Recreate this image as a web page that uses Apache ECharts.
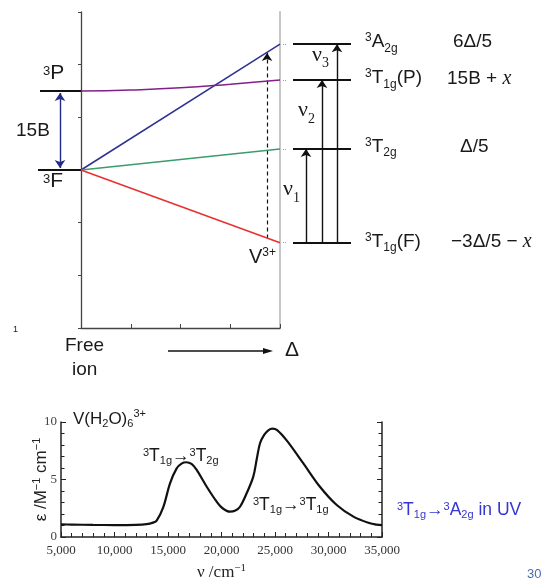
<!DOCTYPE html>
<html>
<head>
<meta charset="utf-8">
<script src="https://cdn.jsdelivr.net/npm/echarts@6/dist/echarts.min.js"></script>
<style>
  html, body { margin: 0; padding: 0; background: #fff; }
  #main { width: 544px; height: 583px; }
</style>
</head>
<body>
<div id="main"></div>
<script>
var SANS = '"Liberation Sans", Arial, sans-serif';
var SERIF = '"Liberation Serif", "Times New Roman", serif';
var INK = '#1a1a1a';

// correlation diagram (Δ 0..4, energy 0..6)
var lineDelta = [0, 4];
var a2gLine = [3.0, 5.39];
var t2gLine = [3.0, 3.40];
var t1gFLine = [3.0, 1.62];
var t1gPDelta = [0, 1, 2, 3, 4];
var t1gPLine = [4.5, 4.52, 4.56, 4.63, 4.71];
var v3Delta = 3.74;
var v3Span = [1.70, 5.22];
var freeIonTerms = [4.5, 3.0];          // 3P, 3F
var levels = [5.39, 4.71, 3.40, 1.62];  // 3A2g, 3T1g(P), 3T2g, 3T1g(F)
var transTo = [3.40, 4.71, 5.39];       // ν1, ν2, ν3

// spectrum of V(H2O)6 3+
var nu = [5000, 6000, 8000, 10000, 12000, 13000, 13600, 13940, 14560, 15190, 15810, 16300, 16700, 17200,
  17680, 18620, 19550, 20100, 20790, 21300, 21730, 22350, 22970, 23300, 23600, 24000, 24400, 24750,
  25200, 26090, 27650, 29200, 30770, 32330, 33880, 34500, 35000];
var eps = [1.1, 1.08, 1.05, 1.04, 1.06, 1.12, 1.25, 1.42, 2.6, 4.67, 5.97, 6.4, 6.5, 6.35,
  5.83, 4.37, 3.07, 2.5, 2.2, 2.3, 2.63, 3.8, 5.25, 6.8, 8.15, 8.9, 9.3, 9.42,
  9.3, 8.4, 6.4, 4.37, 2.78, 1.77, 1.19, 1.08, 1.03];
var nuTickLabels = ['5,000', '10,000', '15,000', '20,000', '25,000', '30,000', '35,000'];

// p = superscript, b = subscript, i = italic serif x
function rich(size, fam, color, up, down) {
  var s = Math.round(size * 0.62);
  return {
    p: { fontSize: s, fontFamily: fam, fill: color, padding: [0, 0, Math.round(up * 2), 0] },
    b: { fontSize: s, fontFamily: fam, fill: color, padding: [Math.round(down * 2), 0, 0, 0] },
    i: { fontSize: size + 1, fontFamily: SERIF, fontStyle: 'italic', fill: color }
  };
}
function txt(x, y, text, size, opt) {
  opt = opt || {};
  var fam = opt.family || SANS;
  var color = opt.color || INK;
  var up = opt.up != null ? opt.up : 4;
  var down = opt.down != null ? opt.down : 6;
  return {
    type: 'text', x: x, y: y, silent: true,
    style: { text: text, fontSize: size, fontFamily: fam, fill: color,
      rich: rich(size, fam, color, up, down), align: opt.align || 'left', verticalAlign: 'middle' }
  };
}
function pairs(xs, ys) {
  return xs.map(function (x, i) { return [x, ys[i]]; });
}
function seg(x0, x1, y) { return { coords: [[x0, y], [x1, y]] }; }

var myChart = echarts.init(document.getElementById('main'));
var option = {
  animation: false,
  backgroundColor: '#fff',
  grid: [
    { left: 81, top: 12, width: 199, height: 316 },
    { left: 36, top: 12, width: 46, height: 316 },
    { left: 280, top: 12, width: 72, height: 316 },
    { left: 61, top: 422, width: 321, height: 115 }
  ],
  xAxis: [
    { gridIndex: 0, type: 'value', min: 0, max: 4, interval: 1,
      axisLine: { onZero: false, lineStyle: { color: '#444', width: 1.3 } },
      axisTick: { inside: true, length: 4, lineStyle: { color: '#444' } },
      axisLabel: { show: false }, splitLine: { show: false } },
    { gridIndex: 1, type: 'value', min: 0, max: 46, show: false },
    { gridIndex: 2, type: 'value', min: 0, max: 72, show: false },
    { gridIndex: 3, type: 'value', min: 5000, max: 35000, interval: 5000,
      axisLine: { onZero: false, lineStyle: { color: '#222', width: 1.5 } },
      axisTick: { inside: true, length: 5, lineStyle: { color: '#222' } },
      minorTick: { show: true, splitNumber: 5, length: 4, lineStyle: { color: '#222' } },
      axisLabel: { margin: 7, fontFamily: SERIF, fontSize: 13, color: '#333',
        formatter: function (v) { return nuTickLabels[Math.round((v - 5000) / 5000)]; } },
      splitLine: { show: false },
      name: 'ν /cm{s|−1}', nameLocation: 'middle', nameGap: 26,
      nameTextStyle: { fontFamily: SERIF, fontSize: 17, color: '#222',
        rich: { s: { fontFamily: SERIF, fontSize: 11, color: '#222', padding: [0, 0, 9, 0] } } } }
  ],
  yAxis: [
    { gridIndex: 0, type: 'value', min: 0, max: 6, interval: 1,
      axisLine: { show: true, onZero: false, lineStyle: { color: '#444', width: 1.3 } },
      axisTick: { show: true, length: 3, lineStyle: { color: '#444' } },
      axisLabel: { show: false }, splitLine: { show: false } },
    { gridIndex: 0, type: 'value', min: 0, max: 6, position: 'right',
      axisLine: { show: true, onZero: false, lineStyle: { color: '#c6c6c6', width: 2 } },
      axisTick: { show: false }, axisLabel: { show: false }, splitLine: { show: false } },
    { gridIndex: 1, type: 'value', min: 0, max: 6, show: false },
    { gridIndex: 2, type: 'value', min: 0, max: 6, show: false },
    { gridIndex: 3, type: 'value', min: 0, max: 10, interval: 5,
      axisLine: { show: true, onZero: false, lineStyle: { color: '#222', width: 1.5 } },
      axisTick: { show: true, inside: true, length: 5, lineStyle: { color: '#222' } },
      minorTick: { show: true, splitNumber: 5, length: 3.5, lineStyle: { color: '#222' } },
      axisLabel: { margin: 4, fontFamily: SERIF, fontSize: 13, color: '#444' },
      splitLine: { show: false },
      name: 'ε /M{s|−1} cm{s|−1}', nameLocation: 'middle', nameRotate: 90, nameGap: 10,
      nameMoveOverlap: false,
      nameTextStyle: { fontFamily: SANS, fontSize: 17, color: '#222',
        rich: { s: { fontFamily: SANS, fontSize: 11, color: '#222', padding: [0, 0, 9, 0] } } } },
    { gridIndex: 3, type: 'value', min: 0, max: 10, interval: 5, position: 'right',
      axisLine: { show: true, onZero: false, lineStyle: { color: '#222', width: 1.5 } },
      axisTick: { show: true, inside: true, length: 5, lineStyle: { color: '#222' } },
      minorTick: { show: true, splitNumber: 5, length: 3.5, lineStyle: { color: '#222' } },
      axisLabel: { show: false }, splitLine: { show: false } }
  ],
  series: [
    { type: 'line', xAxisIndex: 0, yAxisIndex: 0, symbol: 'none', data: pairs(lineDelta, a2gLine),
      lineStyle: { color: '#2e3192', width: 1.5 } },
    { type: 'line', xAxisIndex: 0, yAxisIndex: 0, symbol: 'none', smooth: true, data: pairs(t1gPDelta, t1gPLine),
      lineStyle: { color: '#82208a', width: 1.5 } },
    { type: 'line', xAxisIndex: 0, yAxisIndex: 0, symbol: 'none', data: pairs(lineDelta, t2gLine),
      lineStyle: { color: '#3b9c6c', width: 1.5 } },
    { type: 'line', xAxisIndex: 0, yAxisIndex: 0, symbol: 'none', data: pairs(lineDelta, t1gFLine),
      lineStyle: { color: '#e8312f', width: 1.6 } },
    // dashed V3+ arrow
    { type: 'lines', coordinateSystem: 'cartesian2d', xAxisIndex: 0, yAxisIndex: 0,
      symbol: ['none', 'arrow'], symbolSize: 8,
      lineStyle: { color: '#111', width: 1.2, type: [4, 3], opacity: 1, curveness: 0 },
      data: [{ coords: [[v3Delta, v3Span[0]], [v3Delta, v3Span[1]]] }] },
    // free ion terms
    { type: 'lines', coordinateSystem: 'cartesian2d', xAxisIndex: 1, yAxisIndex: 2, symbol: 'none',
      lineStyle: { color: '#111', width: 2.2, opacity: 1 },
      data: [seg(4, 46, freeIonTerms[0]), seg(2, 46, freeIonTerms[1])] },
    { type: 'lines', coordinateSystem: 'cartesian2d', xAxisIndex: 1, yAxisIndex: 2,
      symbol: ['arrow', 'arrow'], symbolSize: 8,
      lineStyle: { color: '#1f2a8a', width: 1.4, opacity: 1 },
      data: [{ coords: [[24, freeIonTerms[1] + 0.04], [24, freeIonTerms[0] - 0.04]] }] },
    // octahedral levels
    { type: 'lines', coordinateSystem: 'cartesian2d', xAxisIndex: 2, yAxisIndex: 3, symbol: 'none',
      lineStyle: { color: '#111', width: 2.2, opacity: 1 },
      data: levels.map(function (v) { return seg(13, 71, v); }) },
    { type: 'lines', coordinateSystem: 'cartesian2d', xAxisIndex: 2, yAxisIndex: 3, symbol: 'none',
      lineStyle: { color: '#9a9a9a', width: 1, type: 'dotted', opacity: 1 },
      data: levels.map(function (v) { return seg(3, 6, v); }) },
    { type: 'lines', coordinateSystem: 'cartesian2d', xAxisIndex: 2, yAxisIndex: 3,
      symbol: ['none', 'arrow'], symbolSize: 8,
      lineStyle: { color: '#111', width: 1.4, opacity: 1 },
      data: transTo.map(function (v, i) { return { coords: [[[26, 42, 57][i], levels[3]], [[26, 42, 57][i], v]] }; }) },
    // absorption spectrum
    { type: 'line', xAxisIndex: 3, yAxisIndex: 4, symbol: 'none', smooth: 0.35, data: pairs(nu, eps),
      lineStyle: { color: '#111', width: 2.2 } }
  ],
  graphic: [
    txt(43, 73, '{p|3}P', 21, { up: 2 }),
    txt(43, 181, '{p|3}F', 21, { up: 2 }),
    txt(16, 131, '15B', 19),
    txt(249, 257, 'V{p|3+}', 20, { up: 4 }),
    txt(365, 42, '{p|3}A{b|2g}', 19, { up: 4, down: 6.5 }),
    txt(365, 78, '{p|3}T{b|1g}(P)', 19, { up: 4, down: 6.5 }),
    txt(365, 146.5, '{p|3}T{b|2g}', 19, { up: 4, down: 6.5 }),
    txt(365, 241.5, '{p|3}T{b|1g}(F)', 19, { up: 4, down: 6.5 }),
    txt(453, 42, '6Δ/5', 19),
    txt(447, 79, '15B + {i|x}', 19),
    txt(460, 147, 'Δ/5', 19),
    txt(451, 242, '−3Δ/5 − {i|x}', 19),
    txt(312, 55.5, 'ν{b|3}', 22, { family: SERIF, down: 8 }),
    txt(298, 110.5, 'ν{b|2}', 22, { family: SERIF, down: 9 }),
    txt(283, 189.5, 'ν{b|1}', 22, { family: SERIF, down: 8.5 }),
    txt(13, 330, '1', 9),
    txt(65, 346, 'Free', 19),
    txt(72, 370, 'ion', 19),
    txt(285, 350, 'Δ', 21),
    { type: 'line', silent: true, shape: { x1: 168, y1: 351, x2: 266, y2: 351 },
      style: { stroke: '#111', lineWidth: 1.3 } },
    { type: 'polygon', silent: true, shape: { points: [[263, 348], [273, 351], [263, 354]] },
      style: { fill: '#111' } },
    txt(73, 419, 'V(H{b|2}O){b|6}{p|3+}', 17, { up: 5, down: 5 }),
    txt(143, 456, '{p|3}T{b|1g}→{p|3}T{b|2g}', 17.5, { up: 3, down: 5 }),
    txt(253, 505, '{p|3}T{b|1g}→{p|3}T{b|1g}', 17.5, { up: 3, down: 5 }),
    txt(397, 510, '{p|3}T{b|1g}→{p|3}A{b|2g} in UV', 17.5, { color: '#3535d0', up: 3, down: 5 }),
    txt(527, 574, '30', 13, { color: '#4a6ea8' })
  ]
};
myChart.setOption(option);
</script>
</body>
</html>
